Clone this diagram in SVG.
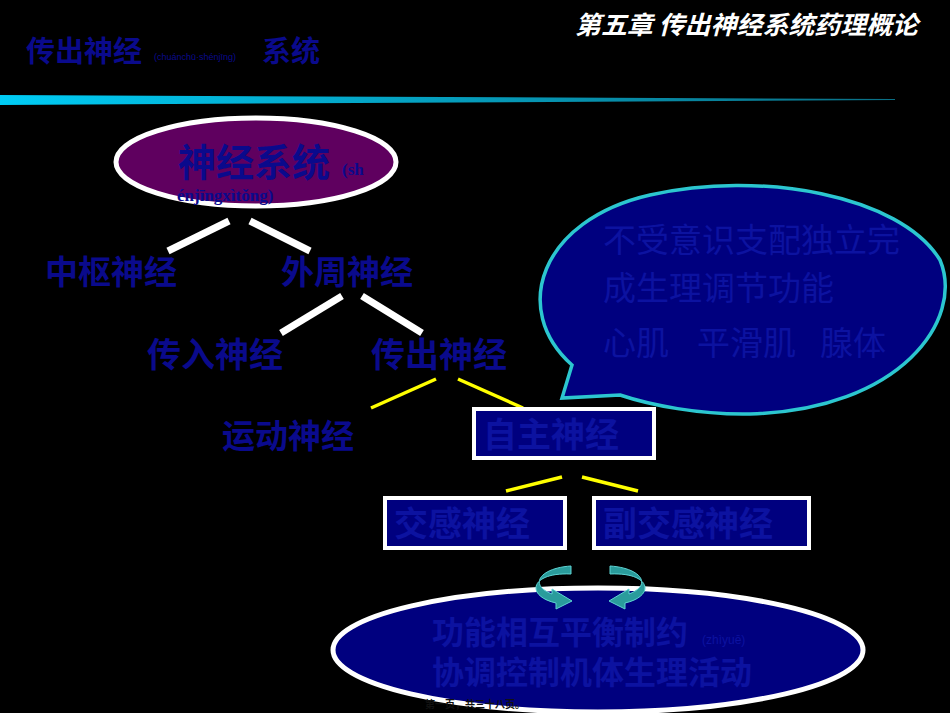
<svg xmlns="http://www.w3.org/2000/svg" width="950" height="713" viewBox="0 0 950 713">
<defs>
<linearGradient id="bar" x1="0" x2="1" y1="0" y2="0"><stop offset="0" stop-color="#00ccf5"/><stop offset="1" stop-color="#0a6f85"/></linearGradient>
<style>
.cj{font-family:"Noto Sans CJK SC","Liberation Sans",sans-serif;font-weight:bold}
.bl{fill:#0a0a8c}
.in{fill:#0c12a0}
.box{fill:#00007f;stroke:#fff;stroke-width:4}
.w{stroke:#fff;stroke-width:7}
.y{stroke:#ffff00;stroke-width:3.5}
</style>
</defs>
<rect width="950" height="713" fill="#000"/>
<text x="575" y="34" textLength="343" lengthAdjust="spacingAndGlyphs" class="cj" font-size="25" font-style="italic" fill="#fff">第五章  传出神经系统药理概论</text>
<text x="26" y="62" class="cj bl" font-size="29">传出神经</text>
<text x="154" y="60" font-family="Liberation Sans,sans-serif" font-size="9" class="bl">(chuánchū·shénjīng)</text>
<text x="262" y="62" class="cj bl" font-size="29">系统</text>
<polygon points="0,95 895,99 895,100 0,105" fill="url(#bar)"/>
<g id="connectors">
<line class="w" x1="229" y1="221" x2="168" y2="251"/><line class="w" x1="250" y1="221" x2="310" y2="251"/>
<line class="w" x1="342" y1="296" x2="281" y2="333"/><line class="w" x1="362" y1="296" x2="422" y2="333"/>
<line class="y" x1="436" y1="379" x2="371" y2="408"/><line class="y" x1="458" y1="379" x2="523" y2="408"/>
<line class="y" x1="562" y1="477" x2="506" y2="491"/><line class="y" x1="582" y1="477" x2="638" y2="491"/>
</g>
<g id="ns"><ellipse cx="256" cy="162" rx="140" ry="44" fill="#5f005f" stroke="#fff" stroke-width="5"/>
<text x="178" y="176" class="cj bl" font-size="38">神经系统</text>
<text x="342" y="175" font-family="Liberation Serif,serif" font-weight="bold" font-size="17" class="bl">(sh</text>
<text x="177" y="201" font-family="Liberation Serif,serif" font-weight="bold" font-size="17" class="bl">énjīngxìtǒng)</text></g>
<text x="45" y="284" class="cj bl" font-size="33">中枢神经</text>
<text x="281" y="284" class="cj bl" font-size="33">外周神经</text>
<text x="147" y="367" class="cj bl" font-size="34">传入神经</text>
<text x="371" y="367" class="cj bl" font-size="34">传出神经</text>
<text x="222" y="448" class="cj bl" font-size="33">运动神经</text>
<g id="bubble"><path d="M572,365 C510,310 540,220 650,195 C760,170 900,195 940,260 C965,320 900,410 750,414 C700,415 650,405 620,395 L562,398 Z" fill="#00007f" stroke="#2cc6cf" stroke-width="3.5"/>
<g class="in" font-family="Noto Sans CJK SC,sans-serif" font-size="33">
<text x="603" y="252">不受意识支配独立完</text>
<text x="603" y="300">成生理调节功能</text>
<text x="603" y="355">心肌</text><text x="697" y="355">平滑肌</text><text x="820" y="355">腺体</text></g></g>
<g id="ans"><rect class="box" x="474" y="409" width="180" height="49"/><text x="483" y="447" class="cj in" font-size="34">自主神经</text></g>
<g id="sym"><rect class="box" x="385" y="498" width="180" height="50"/><text x="394" y="536" class="cj in" font-size="34">交感神经</text></g>
<g id="para"><rect class="box" x="594" y="498" width="215" height="50"/><text x="603" y="536" class="cj in" font-size="34">副交感神经</text></g>
<g id="func"><ellipse cx="598" cy="650" rx="265" ry="62" fill="#00007f" stroke="#fff" stroke-width="5"/>
<text x="432" y="644" class="cj in" font-size="32">功能相互平衡制约</text>
<text x="702" y="644" font-family="Liberation Sans,sans-serif" font-size="12" class="in">(zhìyuē)</text>
<text x="432" y="684" class="cj in" font-size="32">协调控制机体生理活动</text>
<text x="425" y="708" class="cj" font-size="10" font-weight="normal" fill="#111">第一页，共三十八页。</text></g>
<g id="arrows" fill="#2a9c9c" stroke="#5ed3d3" stroke-width="1">
<path d="M571,566 C540,568 528,585 552,594 L552,589 L572,601 L556,609 L556,603 C525,596 530,572 571,574 Z"/>
<path d="M610,566 C641,568 653,585 629,594 L629,589 L609,601 L625,609 L625,603 C656,596 651,572 610,574 Z"/>
</g>
</svg>
